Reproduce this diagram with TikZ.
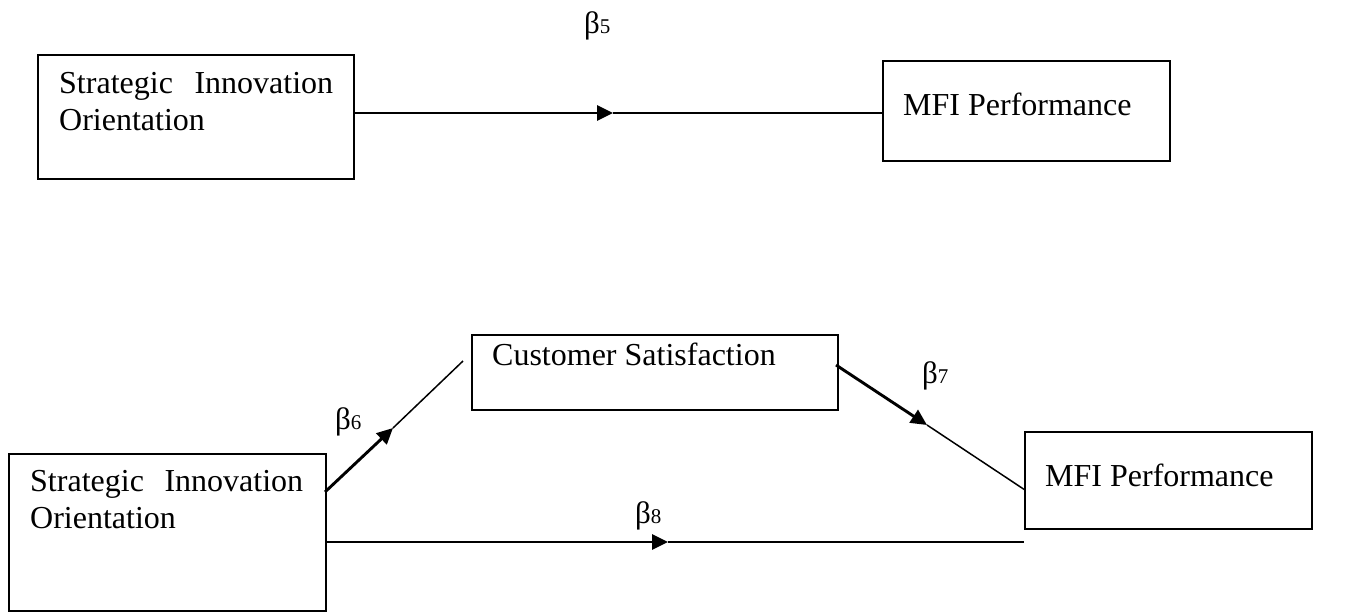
\documentclass[tikz,border=0pt]{standalone}
\usepackage{fontspec}
\setmainfont{Liberation Serif}
\usetikzlibrary{arrows.meta}

\tikzset{
  box/.style={draw, line width=1.8pt, rectangle, inner sep=0pt, anchor=north west},
  boxtext/.style={anchor=base west, inner sep=0pt, align=left,
    font=\fontsize{32}{37}\selectfont},
  coef/.style={anchor=base west, inner sep=0pt, font=\fontsize{31}{31}\selectfont},
  lead/.style={line width=2.9pt, -{Triangle[length=16pt,width=15pt]}},
  trail/.style={line width=1.5pt},
}
\newcommand{\coefsym}[1]{β{\fontsize{21}{21}\selectfont #1}}

\begin{document}
\begin{tikzpicture}[x=1pt,y=-1pt]
  \useasboundingbox (0,0) rectangle (1345,611);

  % ---- direct effect model ----
  \node[box, minimum width=316pt, minimum height=124pt] (sioA) at (37,54) {};
  % multi-line text: the base anchor sits on the last line
  \node[boxtext] (sioAtxt) at (59,130)
    {\hbox to 274pt{Strategic\hfill Innovation}\\Orientation};
  \node[box, minimum width=287pt, minimum height=100pt] (mfiA) at (882,60) {};
  \node[boxtext] (mfiAtxt) at (903,115) {MFI Performance};

  \coordinate (tipA) at (613,113);
  \draw[lead] (sioA.east |- tipA) -- (tipA);
  \draw[trail] (tipA) -- (mfiA.west |- tipA);
  \node[coef] (b5) at (584,33) {\coefsym{5}};

  % ---- mediated model ----
  \node[box, minimum width=317pt, minimum height=157pt] (sioB) at (8,453) {};
  \node[boxtext] (sioBtxt) at (30,528)
    {\hbox to 273pt{Strategic\hfill Innovation}\\Orientation};
  \node[box, minimum width=366pt, minimum height=75pt] (sat) at (471,334) {};
  \node[boxtext] (sattxt) at (492,365) {Customer Satisfaction};
  \node[box, minimum width=287pt, minimum height=97pt] (mfiB) at (1024,431) {};
  \node[boxtext] (mfiBtxt) at (1045,486) {MFI Performance};

  % path a: SIO -> customer satisfaction
  \coordinate (aStart) at (325,492);
  \coordinate (aTip) at (393,428);
  \coordinate (aEnd) at (463,361);
  \draw[lead] (aStart) -- (aTip);
  \draw[trail] (aTip) -- (aEnd);
  \node[coef] (b6) at (335,429) {\coefsym{6}};

  % path b: customer satisfaction -> MFI performance
  \coordinate (bStart) at (836,365);
  \coordinate (bTip) at (927,425);
  \coordinate (bEnd) at (1025,490);
  \draw[lead] (bStart) -- (bTip);
  \draw[trail] (bTip) -- (bEnd);
  \node[coef] (b7) at (922,383) {\coefsym{7}};

  % path c': direct effect
  \coordinate (cTip) at (668,542);
  \draw[lead] (sioB.east |- cTip) -- (cTip);
  \draw[trail] (cTip) -- (mfiB.west |- cTip);
  \node[coef] (b8) at (635,523) {\coefsym{8}};
\end{tikzpicture}
\end{document}
